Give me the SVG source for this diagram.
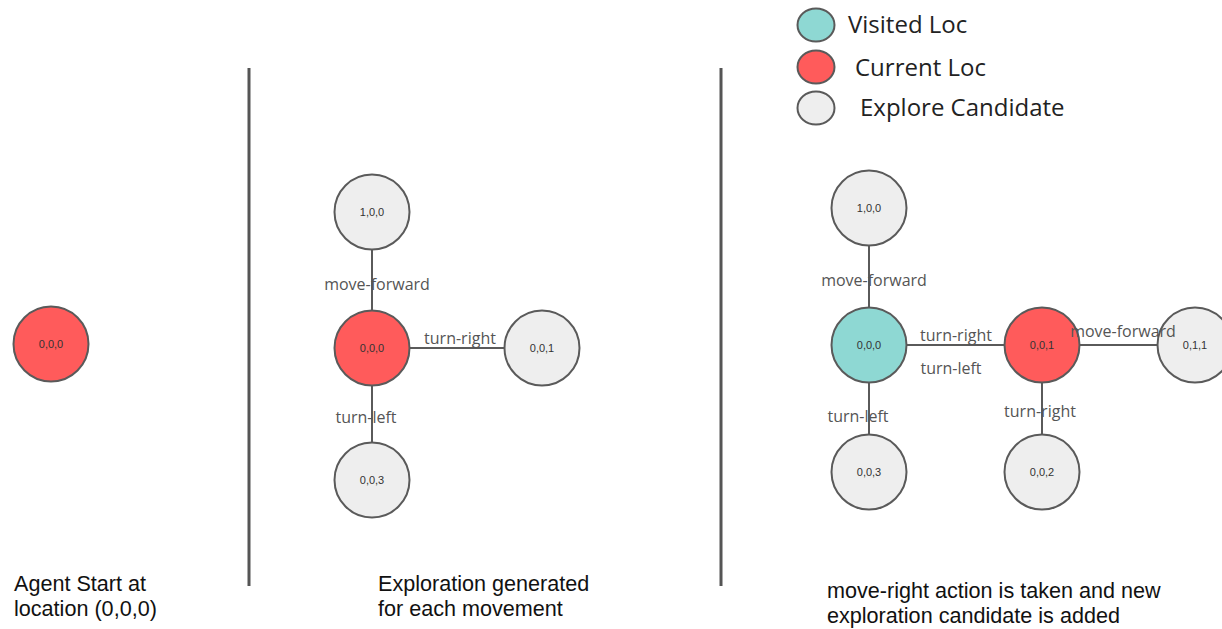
<svg xmlns="http://www.w3.org/2000/svg" width="1222" height="629" viewBox="0 0 1222 629">
<style>
.n{stroke:#5a5a5a;stroke-width:2}
.red{fill:#ff5b5b}
.teal{fill:#8ed8d3}
.gray{fill:#eeeeee}
.nt{font-family:"Liberation Sans",Arial,sans-serif;font-size:11px;fill:#333;text-anchor:middle;dominant-baseline:central}
.el{font-family:"Open Sans","Noto Sans",sans-serif;font-size:16px;fill:#555;text-anchor:middle}
.lg{font-family:"Open Sans","Noto Sans",sans-serif;font-size:24px;fill:#222}
.cap{font-family:"Liberation Sans",Arial,sans-serif;font-size:21.6px;fill:#111}
.c{stroke:#5a5a5a;stroke-width:2;fill:none}
.sep{stroke:#555;stroke-width:3}
</style>
<rect width="1222" height="629" fill="#fff"/>
<g id="separators">
<line class="sep" x1="249" y1="68" x2="249" y2="586"/>
<line class="sep" x1="721" y1="68" x2="721" y2="586"/>
</g>
<g id="connectors">
<line class="c" x1="372" y1="249" x2="372" y2="310"/>
<line class="c" x1="410" y1="348" x2="504" y2="348"/>
<line class="c" x1="372" y1="386" x2="372" y2="442"/>
<line class="c" x1="869" y1="246" x2="869" y2="307"/>
<line class="c" x1="907" y1="345" x2="1004" y2="345"/>
<line class="c" x1="869" y1="383" x2="869" y2="434"/>
<line class="c" x1="1080" y1="345" x2="1157" y2="345"/>
<line class="c" x1="1042" y1="383" x2="1042" y2="434"/>
</g>
<g id="start-000">
<circle class="n red" cx="51" cy="344" r="37.5"/>
<text class="nt" x="51" y="344">0,0,0</text>
</g>
<g id="m-100">
<circle class="n gray" cx="372" cy="212" r="37.5"/>
<text class="nt" x="372" y="212">1,0,0</text>
</g>
<g id="m-000">
<circle class="n red" cx="372" cy="348" r="37.5"/>
<text class="nt" x="372" y="348">0,0,0</text>
</g>
<g id="m-001">
<circle class="n gray" cx="542" cy="348" r="37.5"/>
<text class="nt" x="542" y="348">0,0,1</text>
</g>
<g id="m-003">
<circle class="n gray" cx="372" cy="480" r="37.5"/>
<text class="nt" x="372" y="480">0,0,3</text>
</g>
<g id="r-100">
<circle class="n gray" cx="869" cy="208" r="37.5"/>
<text class="nt" x="869" y="208">1,0,0</text>
</g>
<g id="r-000">
<circle class="n teal" cx="869" cy="345" r="37.5"/>
<text class="nt" x="869" y="345">0,0,0</text>
</g>
<g id="r-001">
<circle class="n red" cx="1042" cy="345" r="37.5"/>
<text class="nt" x="1042" y="345">0,0,1</text>
</g>
<g id="r-011">
<circle class="n gray" cx="1195" cy="345" r="37.5"/>
<text class="nt" x="1195" y="345">0,1,1</text>
</g>
<g id="r-003">
<circle class="n gray" cx="869" cy="472" r="37.5"/>
<text class="nt" x="869" y="472">0,0,3</text>
</g>
<g id="r-002">
<circle class="n gray" cx="1042" cy="472" r="37.5"/>
<text class="nt" x="1042" y="472">0,0,2</text>
</g>
<g id="edge-labels">
<text class="el" x="377" y="290">move-forward</text>
<text class="el" x="460" y="344">turn-right</text>
<text class="el" x="366" y="423">turn-left</text>
<text class="el" x="874" y="286">move-forward</text>
<text class="el" x="956" y="341">turn-right</text>
<text class="el" x="951" y="374">turn-left</text>
<text class="el" x="858" y="422">turn-left</text>
<text class="el" x="1040" y="417">turn-right</text>
<text class="el" x="1123" y="337">move-forward</text>
</g>
<g id="legend">
<ellipse class="n teal" cx="816" cy="25" rx="18.5" ry="16.5"/>
<text class="lg" x="848" y="33">Visited Loc</text>
<ellipse class="n red" cx="816" cy="67" rx="18.5" ry="16.5"/>
<text class="lg" x="855" y="76">Current Loc</text>
<ellipse class="n gray" cx="816" cy="108" rx="18.5" ry="16.5"/>
<text class="lg" x="860" y="116">Explore Candidate</text>
</g>
<g id="captions">
<text class="cap" x="14" y="591">Agent Start at</text>
<text class="cap" x="14" y="616">location (0,0,0)</text>
<text class="cap" x="378" y="591">Exploration generated</text>
<text class="cap" x="378" y="616">for each movement</text>
<text class="cap" x="827" y="598">move-right action is taken and new</text>
<text class="cap" x="827" y="623">exploration candidate is added</text>
</g>
</svg>
